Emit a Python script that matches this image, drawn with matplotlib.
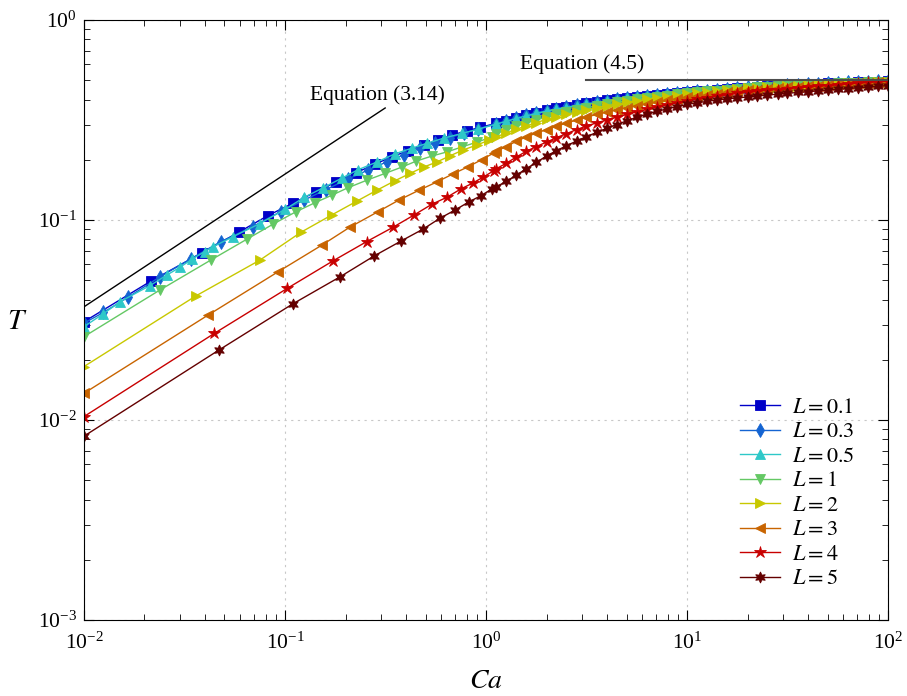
import matplotlib
matplotlib.use('Agg')
import matplotlib.pyplot as plt

plt.rcParams['font.family'] = ['Liberation Serif', 'DejaVu Serif']
plt.rcParams['mathtext.fontset'] = 'stix'

# legend labels, colours and markers
labels = [r'$L=0.1$', r'$L=0.3$', r'$L=0.5$', r'$L=1$',
          r'$L=2$', r'$L=3$', r'$L=4$', r'$L=5$']
colors = ['#0000c8', '#1464d2', '#2ec8c8', '#64c864',
          '#c8c800', '#c86400', '#c80000', '#640000']
markers = ['s', 'd', '^', 'v', '>', '<', '*', (6, 1, 0)]

# low Ca part, read marker by marker
ca_lo = [
    [0.01, 0.0216, 0.0386, 0.059, 0.082, 0.110, 0.142, 0.18, 0.225, 0.28, 0.34, 0.41, 0.49, 0.58, 0.68, 0.80, 0.93],
    [0.01, 0.0125, 0.0165, 0.0239, 0.034, 0.048, 0.069, 0.095, 0.125, 0.16, 0.205, 0.26, 0.32, 0.39, 0.47, 0.56, 0.66, 0.78, 0.91],
    [0.01, 0.0125, 0.0151, 0.0213, 0.0258, 0.030, 0.0344, 0.0399, 0.044, 0.0553, 0.075, 0.10, 0.125, 0.155, 0.192, 0.23, 0.287, 0.352, 0.43, 0.51, 0.62, 0.76, 0.91],
    [0.01, 0.0239, 0.0427, 0.0644, 0.0875, 0.1135, 0.141, 0.171, 0.206, 0.255, 0.315, 0.382, 0.45, 0.54, 0.64, 0.76, 0.90, 1.07],
    [0.01, 0.036, 0.075, 0.12, 0.171, 0.227, 0.287, 0.352, 0.419, 0.49, 0.57, 0.66, 0.77, 0.90, 1.04],
    [0.01, 0.0415, 0.0927, 0.153, 0.21, 0.29, 0.37, 0.465, 0.57, 0.685, 0.81, 0.95, 1.09],
    [0.01, 0.0445, 0.1026, 0.174, 0.255, 0.345, 0.439, 0.539, 0.64, 0.75, 0.86, 0.97, 1.09],
    [0.01, 0.047, 0.109, 0.188, 0.277, 0.378, 0.486, 0.59, 0.70, 0.82, 0.94, 1.07],
]
t_lo = [
    [0.031, 0.0496, 0.0684, 0.087, 0.105, 0.1216, 0.138, 0.155, 0.172, 0.19, 0.207, 0.222, 0.237, 0.252, 0.266, 0.279, 0.29],
    [0.0305, 0.0345, 0.041, 0.052, 0.064, 0.078, 0.0926, 0.11, 0.126, 0.142, 0.16, 0.178, 0.195, 0.212, 0.228, 0.244, 0.258, 0.272, 0.285],
    [0.0293, 0.034, 0.039, 0.047, 0.053, 0.058, 0.0636, 0.0695, 0.0736, 0.0826, 0.096, 0.113, 0.13, 0.145, 0.162, 0.178, 0.195, 0.214, 0.229, 0.242, 0.257, 0.271, 0.284],
    [0.0261, 0.0447, 0.063, 0.080, 0.0955, 0.110, 0.122, 0.133, 0.145, 0.158, 0.171, 0.184, 0.197, 0.209, 0.219, 0.232, 0.245, 0.26],
    [0.0185, 0.0417, 0.063, 0.0868, 0.106, 0.124, 0.141, 0.157, 0.171, 0.184, 0.195, 0.209, 0.224, 0.237, 0.251],
    [0.0136, 0.0335, 0.0552, 0.075, 0.092, 0.110, 0.126, 0.141, 0.155, 0.17, 0.184, 0.20, 0.216],
    [0.0104, 0.0271, 0.0455, 0.0626, 0.078, 0.092, 0.106, 0.120, 0.130, 0.143, 0.153, 0.164, 0.176],
    [0.0083, 0.0224, 0.038, 0.052, 0.066, 0.0785, 0.090, 0.102, 0.112, 0.123, 0.132, 0.143],
]

# high Ca part, where the markers merge into a band
ca_hi = [1.12, 1.26, 1.41, 1.58, 1.78, 2.0, 2.24, 2.51, 2.82, 3.16,
         3.55, 3.98, 4.47, 5.01, 5.62, 6.31, 7.08, 7.94, 8.91, 10.0,
         11.2, 12.6, 14.1, 15.8, 17.8, 20.0, 22.4, 25.1, 28.2, 31.6,
         35.5, 39.8, 44.7, 50.1, 56.2, 63.1, 70.8, 79.4, 89.1, 100.0]
t_hi = [
    [0.304, 0.314, 0.324, 0.334, 0.344, 0.353, 0.361, 0.368, 0.376, 0.383, 0.389, 0.396, 0.402, 0.408, 0.413, 0.418, 0.423, 0.428, 0.432, 0.436,
     0.44, 0.444, 0.448, 0.452, 0.456, 0.459, 0.462, 0.465, 0.468, 0.471, 0.474, 0.477, 0.479, 0.482, 0.484, 0.486, 0.488, 0.49, 0.492, 0.494],
    [0.303, 0.313, 0.323, 0.333, 0.343, 0.352, 0.36, 0.367, 0.375, 0.382, 0.388, 0.395, 0.401, 0.407, 0.412, 0.417, 0.422, 0.427, 0.431, 0.436,
     0.44, 0.444, 0.448, 0.452, 0.456, 0.46, 0.463, 0.466, 0.469, 0.472, 0.475, 0.477, 0.48, 0.482, 0.485, 0.487, 0.489, 0.491, 0.493, 0.495],
    [0.301, 0.311, 0.321, 0.331, 0.341, 0.35, 0.358, 0.365, 0.373, 0.38, 0.386, 0.393, 0.399, 0.405, 0.41, 0.415, 0.42, 0.425, 0.43, 0.435,
     0.439, 0.443, 0.448, 0.452, 0.456, 0.46, 0.463, 0.466, 0.469, 0.472, 0.475, 0.478, 0.48, 0.483, 0.485, 0.487, 0.489, 0.491, 0.493, 0.495],
    [0.27, 0.282, 0.294, 0.305, 0.316, 0.327, 0.337, 0.346, 0.355, 0.364, 0.372, 0.38, 0.388, 0.395, 0.401, 0.407, 0.413, 0.419, 0.425, 0.43,
     0.435, 0.44, 0.444, 0.449, 0.453, 0.457, 0.46, 0.463, 0.466, 0.469, 0.472, 0.475, 0.477, 0.48, 0.482, 0.484, 0.486, 0.488, 0.49, 0.492],
    [0.26, 0.272, 0.284, 0.295, 0.307, 0.318, 0.328, 0.338, 0.347, 0.356, 0.365, 0.373, 0.38, 0.388, 0.395, 0.401, 0.407, 0.413, 0.419, 0.425,
     0.43, 0.435, 0.44, 0.445, 0.45, 0.455, 0.458, 0.461, 0.464, 0.467, 0.47, 0.473, 0.476, 0.478, 0.48, 0.482, 0.484, 0.486, 0.488, 0.49],
    [0.22, 0.233, 0.247, 0.26, 0.272, 0.283, 0.294, 0.305, 0.316, 0.327, 0.337, 0.346, 0.356, 0.365, 0.373, 0.381, 0.388, 0.396, 0.403, 0.41,
     0.416, 0.422, 0.428, 0.434, 0.44, 0.445, 0.449, 0.453, 0.457, 0.46, 0.463, 0.466, 0.47, 0.473, 0.476, 0.479, 0.482, 0.485, 0.488, 0.49],
    [0.18, 0.192, 0.206, 0.22, 0.233, 0.245, 0.258, 0.27, 0.283, 0.295, 0.306, 0.316, 0.327, 0.337, 0.347, 0.357, 0.367, 0.377, 0.386, 0.395,
     0.402, 0.409, 0.416, 0.422, 0.429, 0.435, 0.44, 0.445, 0.449, 0.453, 0.458, 0.462, 0.466, 0.47, 0.474, 0.478, 0.483, 0.487, 0.491, 0.495],
    [0.146, 0.156, 0.167, 0.18, 0.194, 0.209, 0.222, 0.235, 0.248, 0.261, 0.274, 0.287, 0.3, 0.313, 0.326, 0.338, 0.349, 0.359, 0.369, 0.378,
     0.385, 0.392, 0.398, 0.403, 0.408, 0.412, 0.417, 0.421, 0.426, 0.43, 0.434, 0.438, 0.442, 0.446, 0.45, 0.454, 0.458, 0.462, 0.466, 0.47],
]

# reference lines
eq314_ca = [0.01, 0.315]
eq314_t = [0.0368, 0.363]
eq45_ca = [3.16, 100.0]
eq45_t = [0.5, 0.5]

fig = plt.figure(figsize=(9.07, 6.96), dpi=100)
ax = fig.add_axes([0.0926, 0.1092, 0.8865, 0.8621])

for i in range(len(labels)):
    x = ca_lo[i] + ca_hi
    y = t_lo[i] + t_hi[i]
    ms = 7
    if markers[i] == '*':
        ms = 9
    elif i == 7:
        ms = 8
    ax.plot(x, y, color=colors[i], marker=markers[i], markersize=ms,
            markeredgewidth=0.6, linewidth=1.0, label=labels[i])

ax.plot(eq314_ca, eq314_t, color='black', linewidth=1.0)
ax.plot(eq45_ca, eq45_t, color='#4d4d4d', linewidth=1.5)
ax.text(0.133, 0.421, 'Equation (3.14)', fontsize=15.5, ha='left', va='center')
ax.text(1.476, 0.603, 'Equation (4.5)', fontsize=15.5, ha='left', va='center')

ax.set_xscale('log')
ax.set_yscale('log')
ax.set_xlim(1e-2, 1e2)
ax.set_ylim(1e-3, 1e0)
ax.set_xlabel(r'$Ca$', fontsize=20, labelpad=11)
ax.set_ylabel(r'$T$', fontsize=21, rotation=0, va='center')
ax.yaxis.set_label_coords(-0.083, 0.497)
ax.tick_params(which='both', direction='in', top=True, right=True, labelsize=15.5)
ax.tick_params(which='major', length=7)
ax.tick_params(axis='x', which='major', pad=9)
ax.tick_params(axis='y', which='major', pad=5)
ax.tick_params(which='minor', length=4)
ax.grid(True, which='major', linestyle=(0, (2, 4)), color='#c8c8c8', linewidth=0.8)

ax.legend(loc='lower right', frameon=False, fontsize=16, handlelength=1.8,
          handletextpad=0.55, labelspacing=0.178, borderpad=0, borderaxespad=0,
          bbox_to_anchor=(0.959, 0.051))

fig.savefig('out.png', dpi=100)
